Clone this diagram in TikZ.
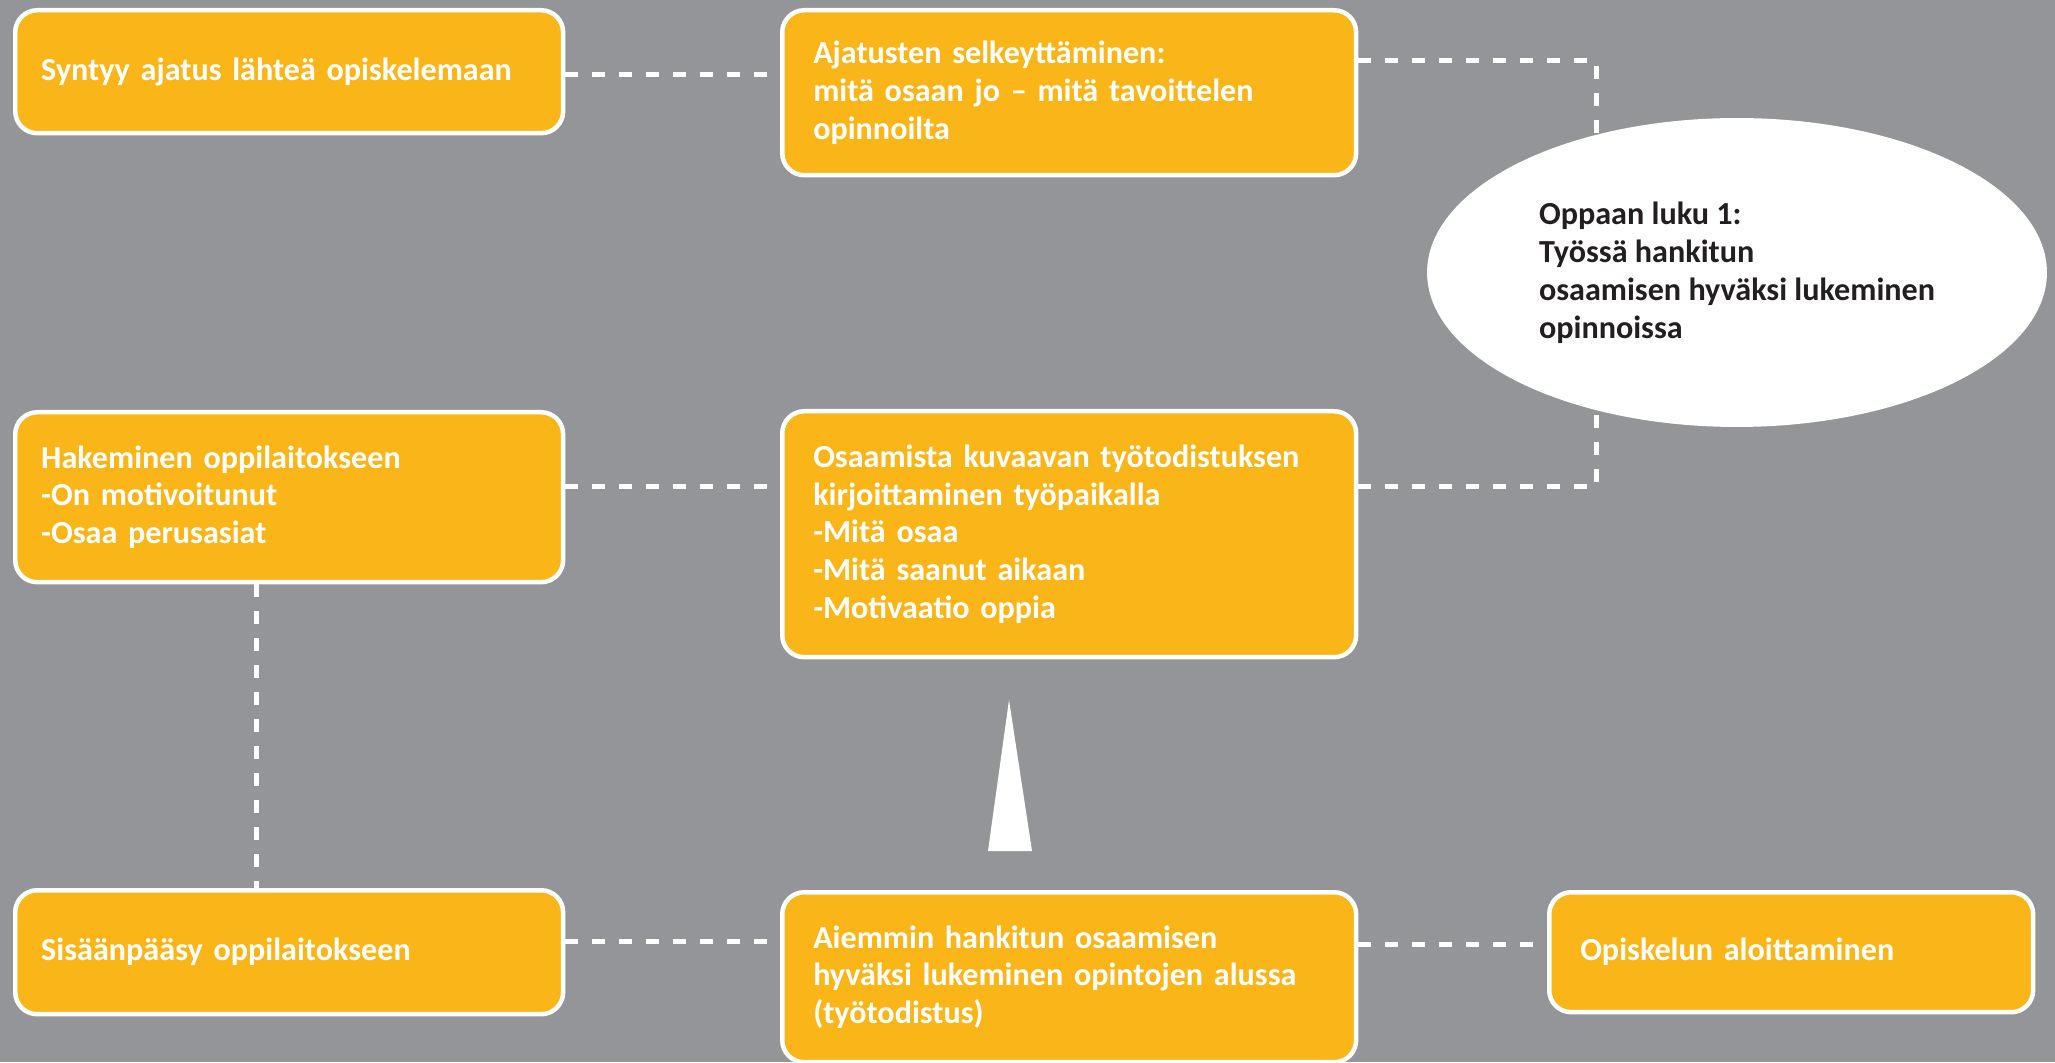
\documentclass[tikz,border=0pt]{standalone}
\usepackage{fontspec}
\setmainfont{Carlito}
\usepackage{xcolor}
\definecolor{ashgray}{HTML}{939598}
\definecolor{amberbox}{HTML}{FAB618}
\definecolor{inkblack}{HTML}{231F20}
\usepackage{tikz}
\usetikzlibrary{shapes.geometric}

\begin{document}
\begin{tikzpicture}[x=0.02cm, y=0.02cm,
  box/.style 2 args={draw=white, line width=0.09cm, fill=amberbox,
              rounded corners=0.44cm, text=white, anchor=north west,
              align=left, inner xsep=0.62cm, inner ysep=0pt,
              text width=#1, minimum height=#2,
              font=\bfseries\fontsize{18.3}{21.6}\selectfont},
  link/.style={draw=white, line width=0.1cm, dash pattern=on 0.26cm off 0.28cm}
]
  \useasboundingbox (0,0) rectangle (2055,1062);
  \fill[ashgray] (0,0) rectangle (2055,1062);

  % Left column
  \node[box={9.92cm}{2.46cm}, inner xsep=0.52cm] (idea) at (13,1054) {Syntyy ajatus lähteä opiskelemaan};
  \node[box={9.92cm}{3.4cm}, inner xsep=0.52cm] (apply) at (13,652) {Hakeminen oppilaitokseen\\-On motivoitunut\\-Osaa perusasiat};
  \node[box={9.92cm}{2.48cm}, inner xsep=0.52cm] (admission) at (13,174) {Sisäänpääsy oppilaitokseen};

  % Middle column
  \node[box={10.24cm}{3.3cm}] (clarify) at (780,1054) {Ajatusten selkeyttäminen:\\mitä osaan jo – mitä tavoittelen\\opinnoilta};
  \node[box={10.24cm}{4.92cm}] (testimony) at (780,653) {Osaamista kuvaavan työtodistuksen\\kirjoittaminen työpaikalla\\-Mitä osaa\\-Mitä saanut aikaan\\-Motivaatio oppia};
  \node[box={10.24cm}{3.4cm}] (recognition) at (780,172) {Aiemmin hankitun osaamisen\\hyväksi lukeminen opintojen alussa\\(työtodistus)};

  % Right column
  \node[box={8.44cm}{2.4cm}] (studystart) at (1547,172) {Opiskelun aloittaminen};
  \coordinate (guidejoin) at (1596,790);

  % Dashed links
  \draw[link] (idea.east |- 0,987) -- (clarify.west |- 0,987);
  \draw[link] (clarify.east |- 0,1001) -| (guidejoin);
  \draw[link] (apply.east |- 0,575) -- (testimony.west |- 0,575);
  \draw[link] (testimony.east |- 0,575) -| (guidejoin);
  \draw[link] (apply.south -| 256,0) -- (admission.north -| 256,0);
  \draw[link] (admission.east |- 0,121) -- (recognition.west |- 0,121);
  \draw[link] (recognition.east |- 0,118) -- (studystart.west |- 0,118);

  % Guide bubble
  \node[ellipse, fill=white, minimum width=12.4cm, minimum height=6.18cm,
        inner sep=0pt, align=left, text=inkblack,
        font=\bfseries\fontsize{18.3}{21.6}\selectfont] (guide) at (1737,789.5)
    {Oppaan luku 1:\\Työssä hankitun\\osaamisen hyväksi lukeminen\\opinnoissa};

  % Spike
  \fill[white] (988,211) -- (1009,362) -- (1032,211) -- cycle;
\end{tikzpicture}
\end{document}
